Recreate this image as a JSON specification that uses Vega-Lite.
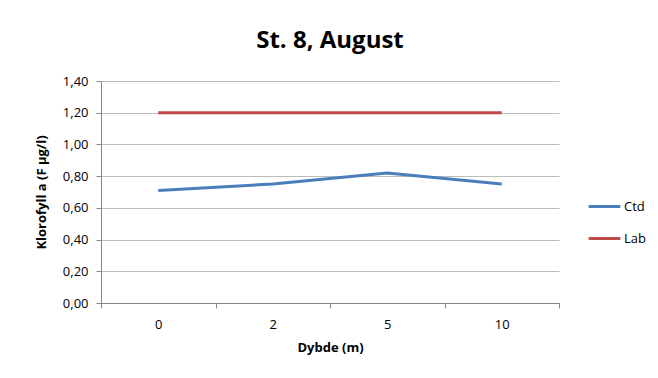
{
  "$schema": "https://vega.github.io/schema/vega-lite/v6.json",
  "width": 458,
  "height": 222,
  "autosize": {"type": "none"},
  "padding": {"left": 101, "top": 81, "right": 99, "bottom": 75},
  "background": "white",
  "title": {
    "text": "St. 8, August",
    "fontSize": 24,
    "font": "Open Sans",
    "fontWeight": "bold",
    "color": "#000000",
    "anchor": "middle",
    "offset": 22
  },
  "data": {
    "values": [
      {"Dybde": "0", "Serie": "Ctd", "Verdi": 0.71},
      {"Dybde": "2", "Serie": "Ctd", "Verdi": 0.75},
      {"Dybde": "5", "Serie": "Ctd", "Verdi": 0.82},
      {"Dybde": "10", "Serie": "Ctd", "Verdi": 0.75},
      {"Dybde": "0", "Serie": "Lab", "Verdi": 1.2},
      {"Dybde": "2", "Serie": "Lab", "Verdi": 1.2},
      {"Dybde": "5", "Serie": "Lab", "Verdi": 1.2},
      {"Dybde": "10", "Serie": "Lab", "Verdi": 1.2}
    ]
  },
  "mark": {"type": "line", "strokeWidth": 3},
  "encoding": {
    "x": {
      "field": "Dybde",
      "type": "ordinal",
      "sort": ["0", "2", "5", "10"],
      "scale": {"type": "band", "paddingInner": 0, "paddingOuter": 0},
      "axis": {
        "title": "Dybde (m)",
        "titleFont": "Open Sans",
        "titleFontSize": 13,
        "titleFontWeight": "bold",
        "titleColor": "#000000",
        "titlePadding": 10,
        "labelFont": "Open Sans",
        "labelFontSize": 13,
        "labelColor": "#000000",
        "labelAngle": 0,
        "labelPadding": 10,
        "tickBand": "extent",
        "tickSize": 5,
        "tickColor": "#868686",
        "domainColor": "#868686",
        "grid": false
      }
    },
    "y": {
      "field": "Verdi",
      "type": "quantitative",
      "scale": {"domain": [0, 1.4], "nice": false},
      "axis": {
        "title": "Klorofyll a (F µg/l)",
        "titleFont": "Open Sans",
        "titleFontSize": 13,
        "titleFontWeight": "bold",
        "titleColor": "#000000",
        "titlePadding": 14,
        "labelFont": "Open Sans",
        "labelFontSize": 13,
        "labelColor": "#000000",
        "labelPadding": 8,
        "values": [0, 0.2, 0.4, 0.6, 0.8, 1.0, 1.2, 1.4],
        "labelExpr": "replace(format(datum.value, '.2f'), '.', ',')",
        "tickSize": 5,
        "tickColor": "#868686",
        "domainColor": "#868686",
        "gridColor": "#bdbdbd",
        "grid": true
      }
    },
    "color": {
      "field": "Serie",
      "type": "nominal",
      "scale": {"domain": ["Ctd", "Lab"], "range": ["#4a7ebb", "#be4b48"]},
      "legend": {
        "title": null,
        "orient": "none",
        "legendX": 486,
        "legendY": 108,
        "symbolType": "stroke",
        "symbolStrokeWidth": 3,
        "symbolSize": 1000,
        "labelFont": "Open Sans",
        "labelFontSize": 13,
        "labelColor": "#000000",
        "rowPadding": 7,
        "labelOffset": 2
      }
    }
  },
  "config": {"view": {"stroke": null}}
}
